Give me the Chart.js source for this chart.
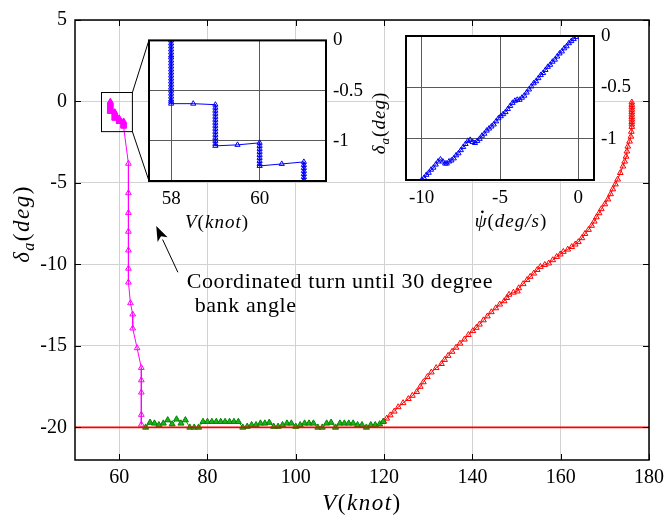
<!DOCTYPE html>
<html><head><meta charset="utf-8">
<script src="https://cdn.jsdelivr.net/npm/chart.js@4.4.0/dist/chart.umd.min.js"></script>
<style>
html,body{margin:0;padding:0;background:#fff;}
#wrap{position:relative;width:670px;height:525px;overflow:hidden;background:#fff;}
canvas{position:absolute;}
</style></head><body>
<div id="wrap">
<canvas id="main" width="670" height="525" style="left:0;top:0"></canvas>
<canvas id="in1" width="255" height="215" style="left:135px;top:22px"></canvas>
<canvas id="in2" width="300" height="215" style="left:360px;top:16px"></canvas>
</div>
<script>
const SERIF = '"Liberation Serif","Times New Roman",serif';

// ---- main axes ----
const xTicks = [60, 80, 100, 120, 140, 160, 180];
const yTicks = [-20, -15, -10, -5, 0, 5];

// ---- low-speed segment (magenta in main plot, blue in zoomed inset) ----
const lowV = [58,58,58,58,58,58,58,58,58,58,58,58,58,58,58,58,58,58,58,58,58,58,58,
  58.5,
  59,59,59,59,59,59,59,59,59,59,59,59,59,59,59,
  59.5,
  60,60,60,60,60,60,60,60,60,
  60.5,
  61,61,61,61,61,61,61,61,61,61,61,61,
  62.1,62.1,62.1,62.1,62.1,62.1,62.1,62.56,63.07,63.07,64.06,65.02,65.02,65.02,65.02,65.02];
const lowD = [0,-0.03,-0.06,-0.09,-0.12,-0.15,-0.17,-0.2,-0.23,-0.26,-0.29,-0.32,-0.35,-0.38,-0.41,-0.44,-0.47,-0.5,-0.53,-0.56,-0.59,-0.61,-0.63,
  -0.63,
  -0.64,-0.67,-0.7,-0.73,-0.76,-0.79,-0.82,-0.85,-0.88,-0.91,-0.94,-0.97,-1,-1.03,-1.05,
  -1.04,
  -1.02,-1.05,-1.08,-1.11,-1.14,-1.17,-1.2,-1.23,-1.25,
  -1.23,
  -1.21,-1.24,-1.27,-1.3,-1.33,-1.36,-1.39,-1.42,-1.45,-1.48,-1.51,-1.54,
  -3.81,-5.62,-6.83,-7.98,-9.13,-10.25,-11.1,-12.37,-13.06,-13.92,-15.13,-16.34,-17.1,-17.85,-19.22,-19.82];

// ---- mid-speed segment (green) ----
const midV = [66,67,68,69,70,71,72,73,74,75,76,77,78,79,80,81,82,83,84,85,86,87,88,89,90,91,92,93,94,95,96,97,98,99,100,
  101,102,103,104,105,106,107,108,109,110,111,112,113,114,115,116,117,118,119,119.8];
const midD = [-20,-19.7,-19.75,-19.85,-19.75,-19.55,-19.8,-19.5,-19.75,-19.55,-20,-20,-20,-19.65,-19.65,-19.65,-19.65,-19.65,-19.65,-19.65,
  -19.65,-19.65,-20,-19.95,-19.85,-19.85,-19.75,-19.75,-19.7,-19.95,-19.95,-19.85,-19.75,-19.75,-19.95,
  -19.85,-19.75,-19.75,-19.75,-20,-20,-19.75,-19.7,-20,-19.75,-19.75,-19.75,-19.75,-19.85,-19.85,-20,-19.85,-19.85,-19.8,-19.65];

// ---- high-speed segment (red) ----
const highV = [119.9,120.6,121.4,122.3,123.2,124.3,125.5,126.4,127.4,128.2,128.9,129.8,130.7,131.8,133.0,133.7,134.5,135.4,136.3,137.2,
  138.2,139.1,140.1,140.9,141.6,142.5,143.4,144.3,145.3,146.2,147.2,147.8,148.3,149.3,150.2,150.5,151.5,152.4,153.1,153.9,
  154.7,155.4,156.4,157.3,158.2,159.1,159.9,160.6,161.6,162.5,163.3,164.0,164.8,165.5,166.3,167.0,167.6,168.1,168.7,169.2,
  170.0,170.7,171.3,171.8,172.4,172.9,173.5,174.1,174.5,174.8,175.0,175.2,175.6,175.9,176.0,176.1,176.1,176.1,176.1,176.1,
  176.1,176.1,176.1,176.1,176.1,176.1];
const highD = [-19.63,-19.45,-19.25,-19.02,-18.75,-18.5,-18.25,-18.05,-17.82,-17.5,-17.22,-16.9,-16.62,-16.35,-16.1,-15.85,-15.6,-15.35,-15.1,-14.85,
  -14.6,-14.32,-14.08,-13.88,-13.68,-13.42,-13.18,-12.92,-12.68,-12.45,-12.25,-12.05,-11.85,-11.72,-11.65,-11.45,-11.2,-10.95,-10.75,-10.55,
  -10.33,-10.14,-10.02,-9.93,-9.73,-9.53,-9.38,-9.22,-9.08,-8.92,-8.77,-8.62,-8.38,-8.12,-7.87,-7.62,-7.36,-7.1,-6.85,-6.6,
  -6.3,-6.0,-5.68,-5.38,-5.08,-4.78,-4.38,-3.98,-3.68,-3.38,-3.06,-2.76,-2.45,-2.15,-1.85,-1.55,-1.4,-1.25,-1.1,-0.95,
  -0.8,-0.65,-0.5,-0.35,-0.2,-0.05];

// ---- reference line at -20 deg ----
const refV = [50, 180];
const refD = [-20, -20];

// ---- inset 1 (zoom of low-speed segment) ----
const in1XTicks = [58, 60];
const in1YTicks = [-1, -0.5, 0];

// ---- inset 2 (yaw rate vs aileron) ----
const psiRate = [-10,-9.85,-9.7,-9.55,-9.4,-9.25,-9.1,-8.95,-8.8,-8.65,-8.5,-8.4,-8.25,-8.1,-7.95,-7.8,-7.65,-7.5,-7.35,-7.2,
  -7.05,-6.9,-6.75,-6.6,-6.45,-6.3,-6.15,-6.0,-5.85,-5.7,-5.55,-5.4,-5.25,-5.1,-4.95,-4.8,-4.65,-4.5,-4.35,-4.2,
  -4.05,-3.9,-3.75,-3.6,-3.45,-3.3,-3.15,-3.0,-2.85,-2.7,-2.55,-2.4,-2.25,-2.1,-1.95,-1.8,-1.65,-1.5,-1.35,-1.2,
  -1.05,-0.9,-0.75,-0.6,-0.45,-0.3,-0.15];
const psiD = [-1.4,-1.38,-1.35,-1.33,-1.3,-1.28,-1.25,-1.22,-1.2,-1.22,-1.24,-1.24,-1.22,-1.21,-1.19,-1.16,-1.14,-1.11,-1.08,-1.05,
  -1.02,-1.01,-1.03,-1.04,-1.02,-1.0,-0.97,-0.95,-0.92,-0.9,-0.88,-0.86,-0.83,-0.8,-0.78,-0.76,-0.74,-0.71,-0.68,-0.65,
  -0.63,-0.62,-0.62,-0.6,-0.58,-0.55,-0.52,-0.49,-0.46,-0.44,-0.41,-0.38,-0.36,-0.33,-0.3,-0.28,-0.25,-0.23,-0.2,-0.17,
  -0.15,-0.12,-0.1,-0.07,-0.05,-0.03,-0.01];
const in2XTicks = [-10, -5, 0];
const in2YTicks = [-1, -0.5, 0];

// ---- layout / annotation settings ----
const IN1 = {left:135, top:22, w:255, h:215, padL:14, padT:18, boxW:177, boxH:141};
const IN2 = {left:360, top:16, w:300, h:215, padL:46, padT:20, boxW:188, boxH:144};
const zoomBox = {v0:56, v1:63, d0:0.55, d1:-1.85};
const arrow = {fromV:73.3, fromD:-10.48, toV:68.4, toD:-7.64};
const note = [
  {text:'Coordinated turn until 30 degree', v:75.3, d:-11.45},
  {text:'bank angle', v:77.1, d:-12.9}
];

const pts = (xs, ys) => xs.map((v, i) => ({x: v, y: ys[i]}));

// parts: [text, style]; style: 'n' upright, 'i' italic, 's' italic subscript, 'd' italic with dot accent
function richText(ctx, parts, x, y, size, align, spacing) {
  const f = p => (p[1] !== 'n' ? 'italic ' : '') +
    (p[1] === 's' ? Math.round(size * 0.7) : size) + 'px ' + SERIF;
  ctx.letterSpacing = (spacing || 0) + 'px';
  const w = parts.map(p => { ctx.font = f(p); return ctx.measureText(p[0]).width; });
  const total = w.reduce((a, b) => a + b, 0);
  let cx = align === 'center' ? x - total / 2 : x;
  ctx.textAlign = 'left';
  ctx.textBaseline = 'alphabetic';
  parts.forEach((p, i) => {
    ctx.font = f(p);
    ctx.fillText(p[0], cx, p[1] === 's' ? y + size * 0.22 : y);
    if (p[1] === 'd') {
      ctx.beginPath();
      ctx.arc(cx + w[i] * 0.6, y - size * 0.8, size * 0.07, 0, Math.PI * 2);
      ctx.fill();
    }
    cx += w[i];
  });
  ctx.letterSpacing = '0px';
}

function tickSetter(list) {
  return s => { s.ticks = list.map(v => ({value: v})); };
}

Chart.defaults.font.family = SERIF;
Chart.defaults.color = '#000';

// ---------------- main chart ----------------
const mainDecor = {
  id: 'mainDecor',
  afterDatasetsDraw(chart) {
    const {ctx, chartArea: a, scales: {x, y}} = chart;
    ctx.save();
    ctx.strokeStyle = '#000';
    ctx.lineWidth = 1;
    ctx.beginPath();
    xTicks.forEach(v => {
      const px = Math.round(x.getPixelForValue(v)) + 0.5;
      ctx.moveTo(px, a.bottom); ctx.lineTo(px, a.bottom - 6);
      ctx.moveTo(px, a.top); ctx.lineTo(px, a.top + 6);
    });
    yTicks.forEach(v => {
      const py = Math.round(y.getPixelForValue(v)) + 0.5;
      ctx.moveTo(a.left, py); ctx.lineTo(a.left + 6, py);
      ctx.moveTo(a.right, py); ctx.lineTo(a.right - 6, py);
    });
    ctx.stroke();
    ctx.lineWidth = 1.5;
    ctx.strokeRect(a.left, a.top, a.right - a.left, a.bottom - a.top);

    // zoom rectangle and connectors
    ctx.lineWidth = 1;
    const rx0 = x.getPixelForValue(zoomBox.v0), rx1 = x.getPixelForValue(zoomBox.v1);
    const ry0 = y.getPixelForValue(zoomBox.d0), ry1 = y.getPixelForValue(zoomBox.d1);
    ctx.strokeRect(rx0, ry0, rx1 - rx0, ry1 - ry0);
    const bx = IN1.left + IN1.padL, by0 = IN1.top + IN1.padT, by1 = by0 + IN1.boxH;
    ctx.beginPath();
    ctx.moveTo(rx1, ry0); ctx.lineTo(bx, by0);
    ctx.moveTo(rx1, ry1); ctx.lineTo(bx, by1);
    ctx.stroke();

    // arrow
    const ax0 = x.getPixelForValue(arrow.fromV), ay0 = y.getPixelForValue(arrow.fromD);
    const ax1 = x.getPixelForValue(arrow.toV), ay1 = y.getPixelForValue(arrow.toD);
    const ang = Math.atan2(ay1 - ay0, ax1 - ax0);
    const hl = 15, hw = 5.5;
    const bxp = ax1 - hl * Math.cos(ang), byp = ay1 - hl * Math.sin(ang);
    ctx.beginPath();
    ctx.moveTo(ax0, ay0); ctx.lineTo(bxp, byp); ctx.stroke();
    ctx.fillStyle = '#000';
    ctx.beginPath();
    ctx.moveTo(ax1, ay1);
    ctx.lineTo(bxp + hw * Math.sin(ang), byp - hw * Math.cos(ang));
    ctx.lineTo(ax1 - (hl * 0.75) * Math.cos(ang), ay1 - (hl * 0.75) * Math.sin(ang));
    ctx.lineTo(bxp - hw * Math.sin(ang), byp + hw * Math.cos(ang));
    ctx.closePath();
    ctx.fill();

    // note text
    note.forEach(n => {
      richText(ctx, [[n.text, 'n']], x.getPixelForValue(n.v), y.getPixelForValue(n.d), 22, 'left', 0.6);
    });

    // axis titles
    richText(ctx, [['V', 'i'], ['(', 'n'], ['knot', 'i'], [')', 'n']], (a.left + a.right) / 2, 510, 23, 'center', 1.5);
    ctx.translate(29, 224);
    ctx.rotate(-Math.PI / 2);
    richText(ctx, [['δ', 'i'], ['a', 's'], ['(', 'n'], ['deg', 'i'], [')', 'n']], 0, 0, 23, 'center', 1.5);
    ctx.restore();
  }
};

new Chart(document.getElementById('main'), {
  type: 'scatter',
  data: {
    datasets: [
      {data: pts(refV, refD), showLine: true, borderColor: '#ff0000', borderWidth: 1.6, pointRadius: 0},
      {data: pts(lowV, lowD), showLine: true, borderColor: '#ff00ff', borderWidth: 1,
        pointStyle: 'triangle', pointRadius: 3.3, pointBorderWidth: 1, pointBackgroundColor: 'rgba(0,0,0,0)', pointBorderColor: '#ff00ff'},
      {data: pts(midV, midD), showLine: true, borderColor: '#00a000', borderWidth: 1,
        pointStyle: 'triangle', pointRadius: 3.5, pointBorderWidth: 1, pointBackgroundColor: '#22b022', pointBorderColor: '#008800'},
      {data: pts(highV, highD), showLine: true, borderColor: '#ff0000', borderWidth: 1,
        pointStyle: 'triangle', pointRadius: 3.3, pointBorderWidth: 1, pointBackgroundColor: 'rgba(0,0,0,0)', pointBorderColor: '#ff0000'}
    ]
  },
  options: {
    responsive: false, animation: false, devicePixelRatio: 1,
    layout: {padding: {left: 0, top: 14, right: 15, bottom: 0}},
    plugins: {legend: {display: false}, tooltip: {enabled: false}},
    scales: {
      x: {
        type: 'linear', min: 50, max: 180,
        afterBuildTicks: tickSetter(xTicks),
        afterFit: s => { s.height = 65; },
        grid: {color: '#d2d2d2', lineWidth: 1, drawTicks: false},
        border: {display: false},
        ticks: {padding: 6, font: {size: 20, family: SERIF}, color: '#000', callback: v => String(v)}
      },
      y: {
        type: 'linear', min: -22, max: 5,
        afterBuildTicks: tickSetter(yTicks),
        afterFit: s => { s.width = 75; },
        grid: {color: '#d2d2d2', lineWidth: 1, drawTicks: false},
        border: {display: false},
        ticks: {padding: 8, font: {size: 20, family: SERIF}, color: '#000', callback: v => String(v)}
      }
    }
  },
  plugins: [mainDecor]
});

// ---------------- insets ----------------
function insetPlugin(titleFn) {
  return {
    id: 'insetDecor',
    beforeDraw(chart) {
      const {ctx, chartArea: a} = chart;
      ctx.save(); ctx.fillStyle = '#fff';
      ctx.fillRect(a.left, a.top, a.right - a.left, a.bottom - a.top);
      ctx.restore();
    },
    afterDraw(chart) {
      const {ctx, chartArea: a} = chart;
      ctx.save();
      ctx.strokeStyle = '#000'; ctx.lineWidth = 2;
      ctx.strokeRect(a.left, a.top, a.right - a.left, a.bottom - a.top);
      ctx.fillStyle = '#000';
      titleFn(ctx, a);
      ctx.restore();
    }
  };
}

function insetScales(L, xr, yr, xt, yt, xPad, yPad) {
  return {
    x: {
      type: 'linear', min: xr[0], max: xr[1],
      afterBuildTicks: tickSetter(xt),
      afterFit: s => { s.height = L.h - L.padT - L.boxH; },
      grid: {color: '#5a5a5a', lineWidth: 1, drawTicks: false},
      border: {display: false},
      ticks: {padding: xPad, font: {size: 19, family: SERIF}, color: '#000', callback: v => String(v)}
    },
    y: {
      type: 'linear', position: 'right', min: yr[0], max: yr[1],
      afterBuildTicks: tickSetter(yt),
      afterFit: s => { s.width = L.w - L.padL - L.boxW; },
      grid: {color: '#5a5a5a', lineWidth: 1, drawTicks: false},
      border: {display: false},
      ticks: {padding: yPad, font: {size: 19, family: SERIF}, color: '#000', callback: v => String(v)}
    }
  };
}

const blueSet = data => ({
  data, showLine: true, borderColor: '#0000ff', borderWidth: 1,
  pointStyle: 'triangle', pointRadius: 3, pointBorderWidth: 1,
  pointBackgroundColor: 'rgba(0,0,0,0)', pointBorderColor: '#0000ff'
});

new Chart(document.getElementById('in1'), {
  type: 'scatter',
  data: {datasets: [blueSet(pts(lowV, lowD))]},
  options: {
    responsive: false, animation: false, devicePixelRatio: 1,
    layout: {padding: {left: IN1.padL, top: IN1.padT, right: 0, bottom: 0}},
    plugins: {legend: {display: false}, tooltip: {enabled: false}},
    scales: insetScales(IN1, [57.5, 61.5], [-1.4, 0], in1XTicks, in1YTicks, 7, 7)
  },
  plugins: [insetPlugin((ctx, a) => {
    richText(ctx, [['V', 'i'], ['(', 'n'], ['knot', 'i'], [')', 'n']], 217 - IN1.left, 228 - IN1.top, 19, 'center', 1);
  })]
});

new Chart(document.getElementById('in2'), {
  type: 'scatter',
  data: {datasets: [blueSet(pts(psiRate, psiD))]},
  options: {
    responsive: false, animation: false, devicePixelRatio: 1,
    layout: {padding: {left: IN2.padL, top: IN2.padT, right: 0, bottom: 0}},
    plugins: {legend: {display: false}, tooltip: {enabled: false}},
    scales: insetScales(IN2, [-11, 1], [-1.4, 0], in2XTicks, in2YTicks, 7, 7)
  },
  plugins: [insetPlugin((ctx, a) => {
    richText(ctx, [['ψ', 'd'], ['(', 'n'], ['deg/s', 'i'], [')', 'n']], 511 - IN2.left, 227 - IN2.top, 19, 'center', 1);
    ctx.translate(385 - IN2.left, 123 - IN2.top);
    ctx.rotate(-Math.PI / 2);
    richText(ctx, [['δ', 'i'], ['a', 's'], ['(', 'n'], ['deg', 'i'], [')', 'n']], 0, 0, 19, 'center', 1);
  })]
});
</script>
</body></html>
